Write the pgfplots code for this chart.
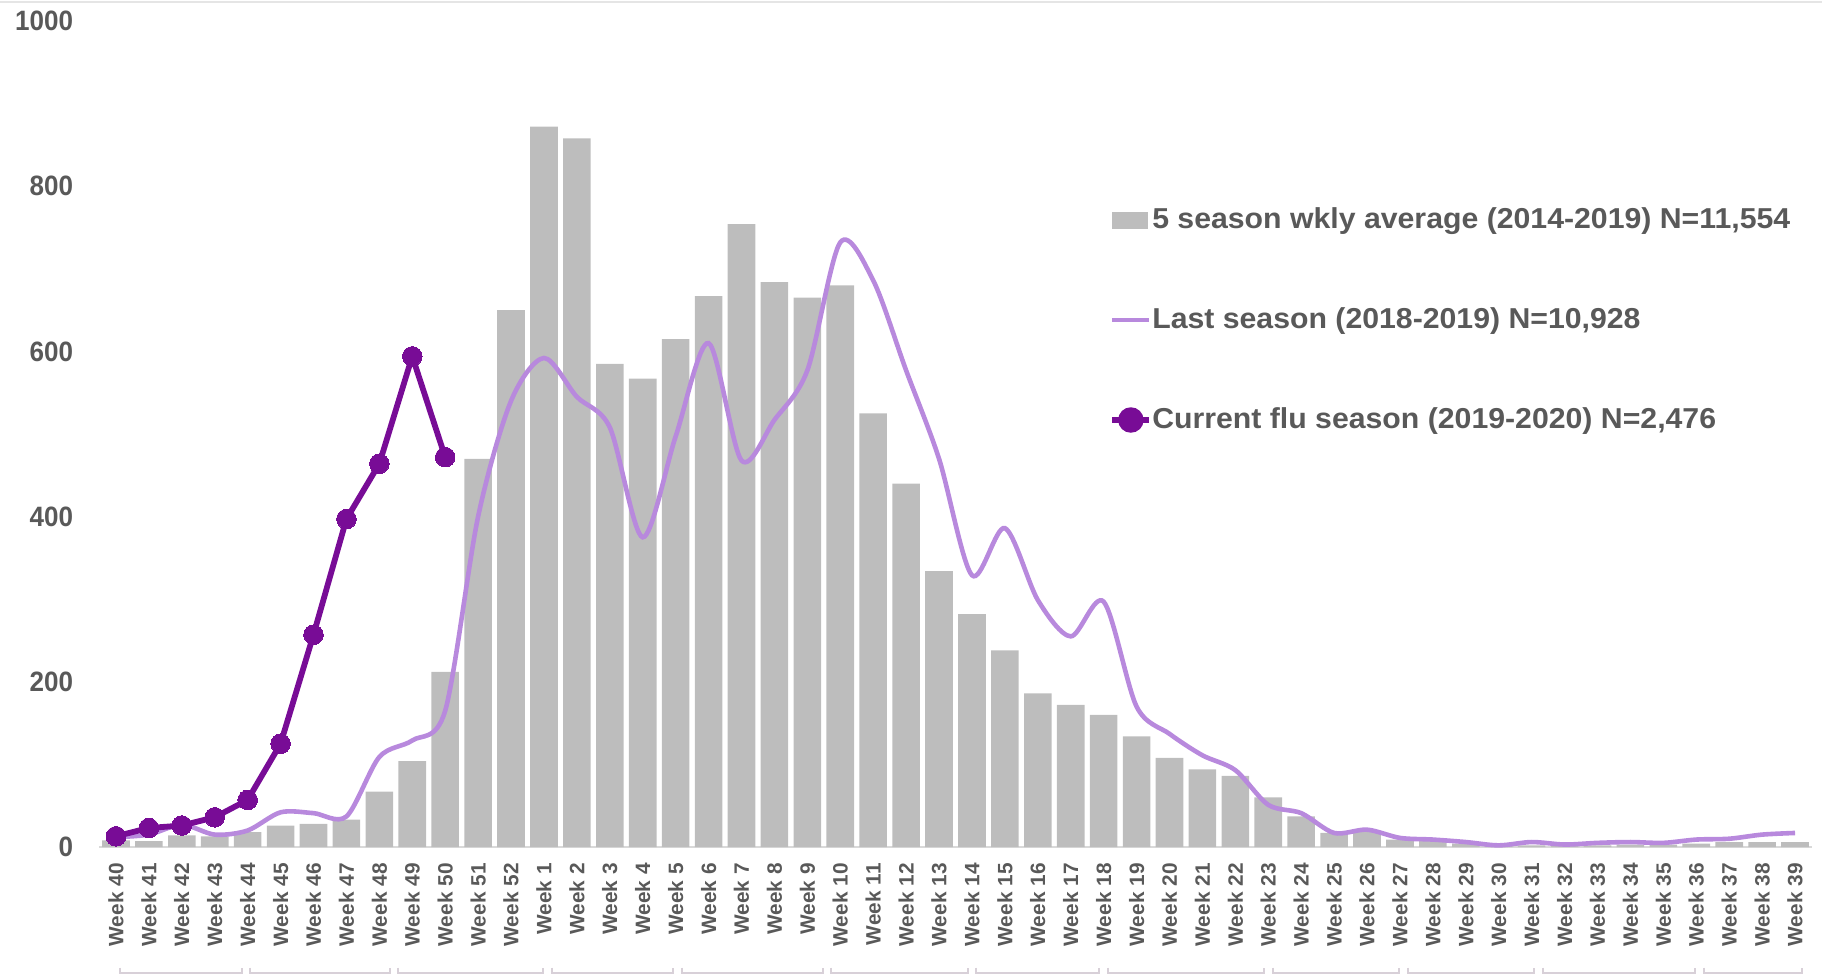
\documentclass[border=0pt]{standalone}
\usepackage{pgfplots}
\usepackage{pgfplotstable}
\pgfplotsset{compat=1.18}
\usepackage{fontspec}
\setmainfont{Liberation Sans}
\newfontfamily\tickfont{Liberation Sans}[FakeStretch=0.93]
\newfontfamily\legfont{Liberation Sans}[FakeStretch=1.05]

\definecolor{barg}{RGB}{189,189,189}
\definecolor{lastc}{RGB}{184,137,221}
\definecolor{curc}{RGB}{120,12,150}
\definecolor{txt}{RGB}{89,89,89}
\definecolor{axc}{RGB}{217,217,217}
\definecolor{brk}{RGB}{216,208,216}

% 5 season weekly average (2014-2019)
\pgfplotstableread{
x y
0 8
1 7
2 14
3 13
4 18
5 26
6 28
7 33
8 67
9 104
10 212
11 470
12 650
13 872
14 858
15 585
16 567
17 615
18 667
19 754
20 684
21 665
22 680
23 525
24 440
25 334
26 282
27 238
28 186
29 172
30 160
31 134
32 108
33 94
34 86
35 60
36 37
37 17
38 19
39 9
40 7
41 4
42 2
43 2
44 2
45 2
46 3
47 3
48 4
49 6
50 6
51 6
}\avgtable

% last season (2018-2019)
\pgfplotstableread{
x y
0 12
1 15
2 27
3 15
4 20
5 42
6 41
7 37
8 109
9 129
10 165
11 400
12 540
13 592
14 545
15 508
16 375
17 497
18 610
19 468
20 517
21 577
22 732
23 686
24 577
25 470
26 329
27 386
28 299
29 255
30 297
31 170
32 137
33 111
34 93
35 51
36 41
37 17
38 21
39 11
40 9
41 6
42 2
43 6
44 3
45 5
46 6
47 5
48 9
49 10
50 15
51 17
}\lasttable

% current season (2019-2020)
\pgfplotstableread{
x y
0 13
1 23
2 26
3 36
4 57
5 125
6 257
7 397
8 464
9 594
10 472
}\curtable

\begin{document}
\begin{tikzpicture}
\begin{axis}[
  at={(0,0)}, anchor=south west,
  scale only axis,
  width=856pt, height=413pt,
  xmin=-0.5, xmax=51.5,
  ymin=0, ymax=1000,
  clip=false,
  separate axis lines,
  axis x line*=bottom,
  axis y line*=left,
  y axis line style={draw=none},
  x axis line style={draw=axc, line width=1pt},
  major tick length=0pt,
  ytick={0,200,400,600,800,1000},
  xtick={0,...,51},
  xticklabels={Week 40,Week 41,Week 42,Week 43,Week 44,Week 45,Week 46,Week 47,Week 48,Week 49,Week 50,Week 51,Week 52,Week 1,Week 2,Week 3,Week 4,Week 5,Week 6,Week 7,Week 8,Week 9,Week 10,Week 11,Week 12,Week 13,Week 14,Week 15,Week 16,Week 17,Week 18,Week 19,Week 20,Week 21,Week 22,Week 23,Week 24,Week 25,Week 26,Week 27,Week 28,Week 29,Week 30,Week 31,Week 32,Week 33,Week 34,Week 35,Week 36,Week 37,Week 38,Week 39},
  /pgf/number format/assume math mode=true,
  /pgf/number format/1000 sep={},
  yticklabel style={font=\tickfont\bfseries\fontsize{14pt}{16pt}\selectfont, text=txt, anchor=east, inner sep=0pt},
  yticklabel shift=13pt,
  xticklabel style={font=\bfseries\fontsize{10.4pt}{12pt}\selectfont, text=txt, rotate=90, anchor=east, inner sep=0pt},
  xticklabel shift=8pt,
  legend style={at={(0.5897,0.638)}, anchor=west, draw=none, fill=none,
    inner sep=0pt, column sep=0pt, row sep=36pt,
    font=\legfont\bfseries\fontsize{14.4pt}{17pt}\selectfont, text=txt,
    nodes={inner sep=0pt, text height=11pt, text depth=3pt}},
  legend cell align=left,
]

\addplot[ybar, bar width=13.8pt, fill=barg, draw=none,
  legend image code/.code={\fill[barg] (0pt,-4.25pt) rectangle (18pt,4.25pt);}]
  table[x=x, y=y] {\avgtable};
\addlegendentry{5 season wkly average (2014-2019) N=11,554}

\addplot[smooth, lastc, line width=2.3pt, no marks,
  legend image code/.code={\draw[lastc, line width=2.3pt] (0pt,0pt) -- (18.5pt,0pt);}]
  table[x=x, y=y] {\lasttable};
\addlegendentry{Last season (2018-2019) N=10,928}

\addplot[curc, line width=2.9pt, mark=*, mark size=4.9pt,
  mark options={fill=curc, draw=curc, line width=0pt},
  legend image code/.code={\draw[curc, line width=2.9pt] (0pt,0pt) -- (18.5pt,0pt);
    \fill[curc] (9.25pt,0pt) circle (4.9pt);}]
  table[x=x, y=y] {\curtable};
\addlegendentry{Current flu season (2019-2020) N=2,476}

% month brackets under the week labels
\draw[brk, line width=1pt] (axis cs:0.12,-146) |- (axis cs:3.82,-152.5) -- (axis cs:3.82,-146);
\draw[brk, line width=1pt] (axis cs:4.08,-146) |- (axis cs:8.32,-152.5) -- (axis cs:8.32,-146);
\draw[brk, line width=1pt] (axis cs:8.58,-146) |- (axis cs:12.97,-152.5) -- (axis cs:12.97,-146);
\draw[brk, line width=1pt] (axis cs:13.23,-146) |- (axis cs:16.93,-152.5) -- (axis cs:16.93,-146);
\draw[brk, line width=1pt] (axis cs:17.19,-146) |- (axis cs:21.47,-152.5) -- (axis cs:21.47,-146);
\draw[brk, line width=1pt] (axis cs:21.73,-146) |- (axis cs:25.87,-152.5) -- (axis cs:25.87,-146);
\draw[brk, line width=1pt] (axis cs:26.13,-146) |- (axis cs:29.87,-152.5) -- (axis cs:29.87,-146);
\draw[brk, line width=1pt] (axis cs:30.13,-146) |- (axis cs:34.87,-152.5) -- (axis cs:34.87,-146);
\draw[brk, line width=1pt] (axis cs:35.13,-146) |- (axis cs:38.97,-152.5) -- (axis cs:38.97,-146);
\draw[brk, line width=1pt] (axis cs:39.23,-146) |- (axis cs:43.07,-152.5) -- (axis cs:43.07,-146);
\draw[brk, line width=1pt] (axis cs:43.33,-146) |- (axis cs:47.97,-152.5) -- (axis cs:47.97,-146);
\draw[brk, line width=1pt] (axis cs:48.23,-146) |- (axis cs:51.2,-152.5) -- (axis cs:51.2,-146);
\end{axis}
\draw[gray!20, line width=0.8pt] (-49.75pt,422.6pt) -- (861.25pt,422.6pt);
\pgfresetboundingbox
\useasboundingbox (-49.75pt,-64.5pt) rectangle (861.25pt,423.5pt);
\end{tikzpicture}
\end{document}
